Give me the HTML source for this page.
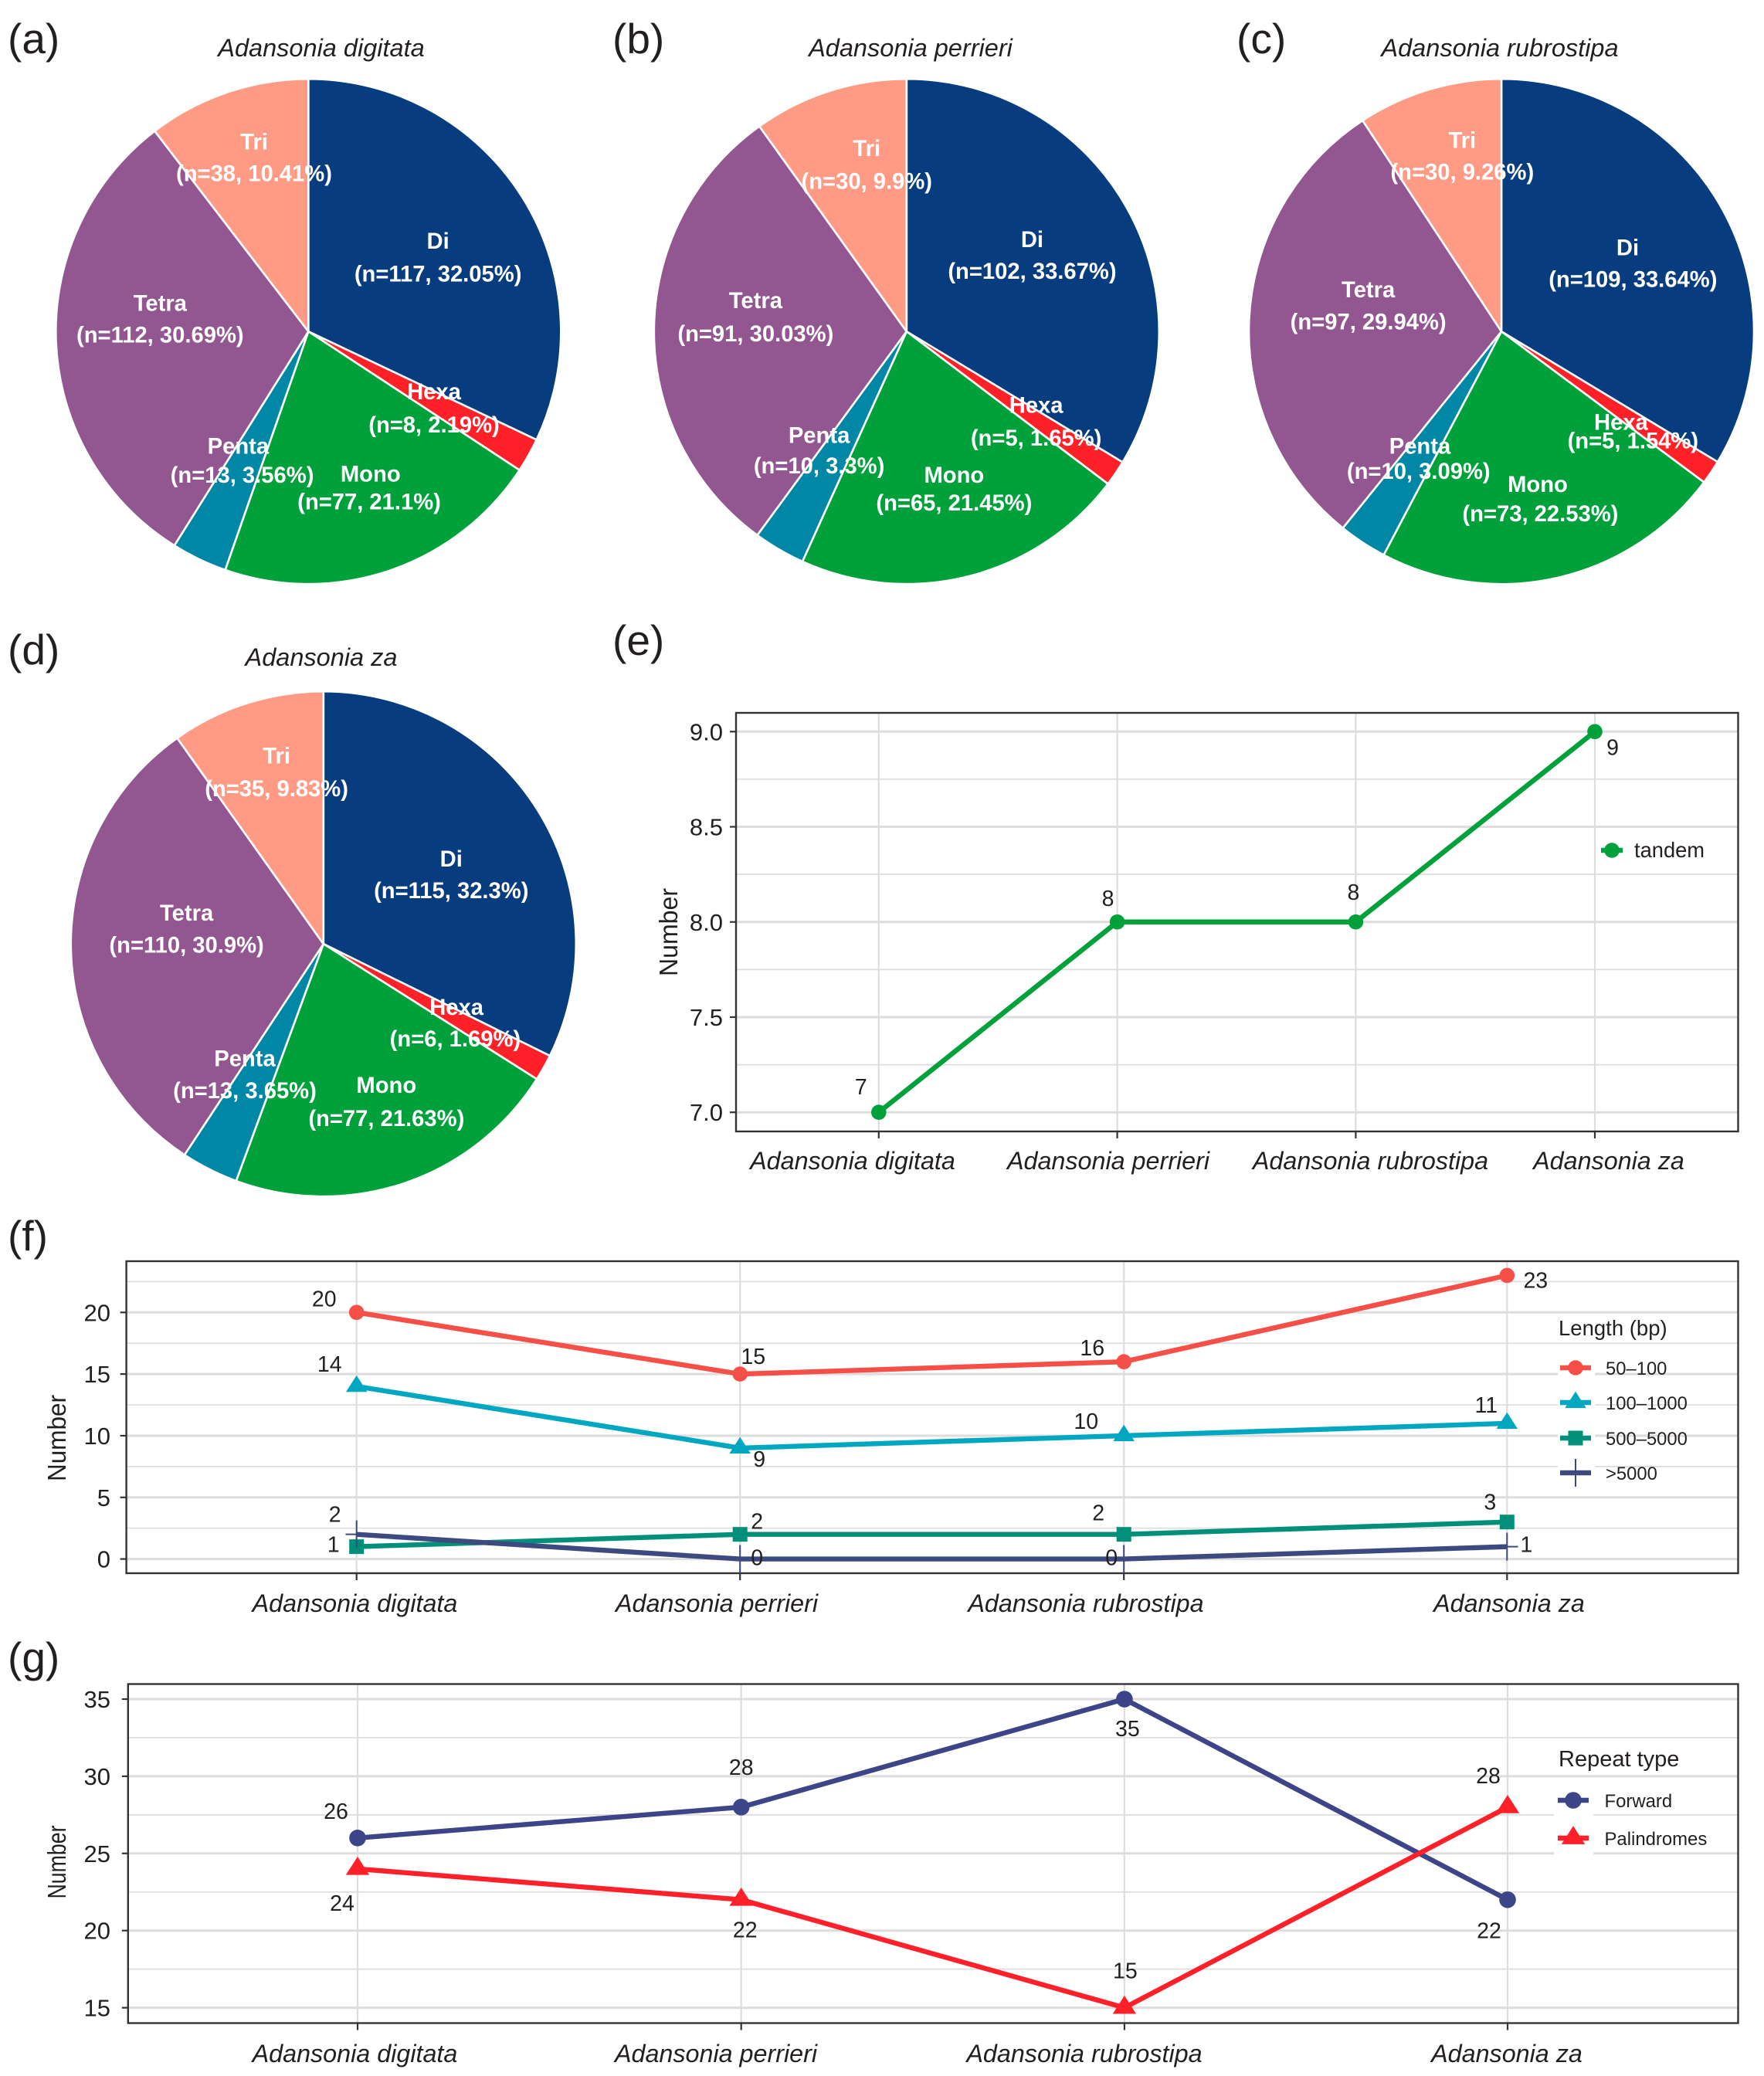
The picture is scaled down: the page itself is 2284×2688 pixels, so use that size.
<!DOCTYPE html>
<html lang="en">
<head>
<meta charset="utf-8">
<title>Adansonia repeat statistics</title>
<style>
html,body{margin:0;padding:0;background:#fff;}
svg{display:block;}
text{font-family:"Liberation Sans",Arial,sans-serif;fill:#231f20;}
</style>
</head>
<body>
<svg id="figure" xmlns="http://www.w3.org/2000/svg" width="2284" height="2688" viewBox="0 0 2284 2688">
  <rect width="2284" height="2688" fill="#fff"/>
  <text x="10" y="69" font-size="55">(a)</text>
  <text x="793" y="69" font-size="55">(b)</text>
  <text x="1601" y="69" font-size="55">(c)</text>
  <text x="10" y="860" font-size="55">(d)</text>
  <text x="793" y="848" font-size="55">(e)</text>
  <text x="10" y="1619" font-size="55">(f)</text>
  <text x="10" y="2165" font-size="55">(g)</text>
</svg>
<script>
// ---------- data ----------
const categories = ["Adansonia digitata", "Adansonia perrieri", "Adansonia rubrostipa", "Adansonia za"];
const sliceNames = ["Di", "Hexa", "Mono", "Penta", "Tetra", "Tri"];
const countsDigitata = [117, 8, 77, 13, 112, 38];
const countsPerrieri = [102, 5, 65, 10, 91, 30];
const countsRubrostipa = [109, 5, 73, 10, 97, 30];
const countsZa = [115, 6, 77, 13, 110, 35];
const percentDigitata = ["32.05", "2.19", "21.1", "3.56", "30.69", "10.41"];
const percentPerrieri = ["33.67", "1.65", "21.45", "3.3", "30.03", "9.9"];
const percentRubrostipa = ["33.64", "1.54", "22.53", "3.09", "29.94", "9.26"];
const percentZa = ["32.3", "1.69", "21.63", "3.65", "30.9", "9.83"];
const tandemValues = [7, 8, 8, 9];
const length50to100 = [20, 15, 16, 23];
const length100to1000 = [14, 9, 10, 11];
const length500to5000 = [1, 2, 2, 3];
const lengthOver5000 = [2, 0, 0, 1];
const forwardValues = [26, 28, 35, 22];
const palindromeValues = [24, 22, 15, 28];
const tandemTicks = ["7.0", "7.5", "8.0", "8.5", "9.0"];
const tandemMinorTicks = [7.25, 7.75, 8.25, 8.75];
const lengthTicks = ["0", "5", "10", "15", "20"];
const lengthMinorTicks = [2.5, 7.5, 12.5, 17.5, 22.5];
const repeatTicks = ["15", "20", "25", "30", "35"];
const repeatMinorTicks = [17.5, 22.5, 27.5, 32.5];

// ---------- style / layout (not data) ----------
const sliceColors = ["#073d7e", "#ff2127", "#00a13b", "#0087a5", "#925690", "#ff9b85"];
const NS = "http://www.w3.org/2000/svg";
const root = document.getElementById("figure");
const displayScale = 1.7134;

// two-line slice label anchors, in the order of sliceNames: [x1, y1, x2, y2]
const labelAnchorsA = [[331,182,331,207],[328,296,328,321],[280,358,279,379],[180,337,183,359],[121,229,121,253],[192,107,192,131]];
const labelAnchorsB = [[780,181,780,205],[783,306,783,331],[721,359,721,380],[619,329,619,352],[571,227,571,252],[655,112,655,137]];
const labelAnchorsC = [[1230,187,1234,211],[1225,319,1234,333],[1162,366,1164,388],[1073,337,1072,356],[1034,219,1034,243],[1105,106,1105,130]];
const labelAnchorsD = [[341,649,341,673],[345,761,344,785],[292,820,292,845],[185,800,185,824],[141,690,141,714],[209,571,209,596]];

function make(tag, attrs, parent, text) {
  const node = document.createElementNS(NS, tag);
  for (const key in attrs) node.setAttribute(key, attrs[key]);
  if (text !== undefined) node.textContent = text;
  (parent || root).appendChild(node);
  return node;
}

// ---------- pies ----------
function drawPie(key, title, counts, percents, cx, cy, r, titleX, titleY, anchors) {
  const group = make("g", {});
  
  
  const heading = make("text", {x: titleX, y: titleY + 11, "font-size": 32.5, "font-style": "italic", "text-anchor": "middle"}, group, title);
  
  
  const total = counts.reduce((a, b) => a + b, 0);
  let cumulative = 0;
  counts.forEach((value, i) => {
    const a0 = cumulative / total * 2 * Math.PI;
    cumulative += value;
    const a1 = cumulative / total * 2 * Math.PI;
    const large = a1 - a0 > Math.PI ? 1 : 0;
    const d = "M" + cx + " " + cy +
      "L" + (cx + r * Math.sin(a0)).toFixed(2) + " " + (cy - r * Math.cos(a0)).toFixed(2) +
      "A" + r + " " + r + " 0 " + large + " 1 " + (cx + r * Math.sin(a1)).toFixed(2) + " " + (cy - r * Math.cos(a1)).toFixed(2) + "Z";
    const slice = make("path", {d: d, fill: sliceColors[i], stroke: "#fff", "stroke-width": 2.6, "stroke-linejoin": "round"}, group);
    
    
  });
  counts.forEach((value, i) => {
    const a = anchors[i];
    const line1 = make("text", {x: a[0] * displayScale, y: a[1] * displayScale + 10, "font-size": 29.2, "font-weight": "bold", "text-anchor": "middle", style: "fill:#fff"}, group, sliceNames[i]);
    
    
    const line2 = make("text", {x: a[2] * displayScale, y: a[3] * displayScale + 10, "font-size": 29.2, "font-weight": "bold", "text-anchor": "middle", style: "fill:#fff"}, group, "(n=" + value + ", " + percents[i] + "%)");
    
    
  });
}
drawPie("digitata", categories[0], countsDigitata, percentDigitata, 399.3, 429.2, 327, 416, 62, labelAnchorsA);
drawPie("perrieri", categories[1], countsPerrieri, percentPerrieri, 1173.8, 429.2, 327, 1179, 62, labelAnchorsB);
drawPie("rubrostipa", categories[2], countsRubrostipa, percentRubrostipa, 1944, 429.2, 327, 1942, 62, labelAnchorsC);
drawPie("za", categories[3], countsZa, percentZa, 418.8, 1222.2, 327, 416, 851, labelAnchorsD);

// ---------- markers ----------
function drawMarker(shape, x, y, color, size, parent) {
  let m;
  if (shape === "circle") {
    m = make("circle", {cx: x, cy: y, r: size, fill: color}, parent);
  } else if (shape === "triangle") {
    const w = size * 1.45, up = size * 1.5, down = size * 0.75;
    m = make("polygon", {points: (x - w) + "," + (y + down) + " " + (x + w) + "," + (y + down) + " " + x + "," + (y - up), fill: color}, parent);
  } else if (shape === "square") {
    m = make("rect", {x: x - size, y: y - size, width: size * 2, height: size * 2, fill: color}, parent);
  } else {
    m = make("path", {d: "M" + (x - size * 1.5) + " " + y + "H" + (x + size * 1.5) + "M" + x + " " + (y - size * 1.9) + "V" + (y + size * 1.9), stroke: color, "stroke-width": 2, fill: "none"}, parent);
  }
  return m;
}

// ---------- line charts ----------
function drawLineChart(cfg) {
  const group = make("g", {});
  
  
  const yScale = v => cfg.y0 + (v - cfg.v0) * (cfg.y1 - cfg.y0) / (cfg.v1 - cfg.v0);
  const xScale = i => cfg.catX[i];
  const gridColor = "#dfdcdc";

  cfg.minor.forEach(v => {
    const g = make("line", {x1: cfg.left, x2: cfg.right, y1: yScale(v), y2: yScale(v), stroke: gridColor, "stroke-width": 1.7}, group);
    
    
  });
  cfg.ticks.forEach(t => {
    const v = parseFloat(t);
    const g = make("line", {x1: cfg.left, x2: cfg.right, y1: yScale(v), y2: yScale(v), stroke: gridColor, "stroke-width": 3}, group);
    
    
  });
  categories.forEach((c, i) => {
    const g = make("line", {x1: xScale(i), x2: xScale(i), y1: cfg.top, y2: cfg.bottom, stroke: gridColor, "stroke-width": 2.2}, group);
    
    
  });

  // legend key background sits over the grid
  const keyBg = make("rect", cfg.keyBox, group);
  keyBg.setAttribute('fill', '#fff');
  
  

  const border = make("rect", {x: cfg.left, y: cfg.top, width: cfg.right - cfg.left, height: cfg.bottom - cfg.top, fill: "none", stroke: "#333", "stroke-width": 2.4}, group);
  
  

  cfg.ticks.forEach(t => {
    const v = parseFloat(t);
    const tick = make("line", {x1: cfg.left - 8, x2: cfg.left, y1: yScale(v), y2: yScale(v), stroke: "#333", "stroke-width": 2.2}, group);
    
    
    const label = make("text", {x: cfg.tickRight, y: yScale(v) + 11, "font-size": 31, "text-anchor": "end"}, group, t);
    
    
  });
  categories.forEach((c, i) => {
    const tick = make("line", {x1: xScale(i), x2: xScale(i), y1: cfg.bottom, y2: cfg.bottom + 9, stroke: "#333", "stroke-width": 2.2}, group);
    
    
    const label = make("text", {x: cfg.catLabelX[i], y: cfg.catBaseline, "font-size": 32.3, "font-style": "italic", "text-anchor": "middle"}, group, c);
    
    
  });

  const axisTitle = make("text", {transform: "translate(" + cfg.titleX + " " + cfg.titleY + ") rotate(-90)", "font-size": cfg.titleSize, "text-anchor": "middle", textLength: cfg.titleLength, lengthAdjust: "spacingAndGlyphs"}, group, "Number");
  
  

  cfg.series.forEach(s => {
    const pts = s.values.map((v, i) => xScale(i).toFixed(2) + "," + yScale(v).toFixed(2)).join(" ");
    const line = make("polyline", {points: pts, fill: "none", stroke: s.color, "stroke-width": 6.4, "stroke-linejoin": "round"}, group);
    
    
  });
  cfg.series.forEach(s => {
    s.values.forEach((v, i) => {
      const mark = drawMarker(s.marker, xScale(i), yScale(v), s.color, s.size, group);
      
      
      const off = s.offsets[i];
      const label = make("text", {x: xScale(i) + off[0], y: yScale(v) + off[1] + 10, "font-size": 28.5, "text-anchor": "middle"}, group, String(v));
      
      
    });
  });

  // legend
  if (cfg.legendTitle) {
    const lt = make("text", {x: cfg.legendTitleX, y: cfg.legendTitleY, "font-size": cfg.legendTitleSize}, group, cfg.legendTitle);
    
    
  }
  cfg.series.forEach((s, i) => {
    const ky = cfg.legendY[i];
    const keyLine = make("line", {x1: cfg.keyX - cfg.keyHalf, x2: cfg.keyX + cfg.keyHalf, y1: ky, y2: ky, stroke: s.color, "stroke-width": 6.4}, group);
    
    
    const keyMark = drawMarker(s.marker, cfg.keyX, ky, s.color, s.size, group);
    
    
    const keyText = make("text", {x: cfg.legendTextX, y: ky + 9, "font-size": cfg.legendSize}, group, s.label);
    
    
  });
}

drawLineChart({
  key: "tandem", left: 953, right: 2250.5, top: 923, bottom: 1465,
  v0: 7, y0: 1440.2, v1: 9, y1: 947.3,
  ticks: tandemTicks, minor: tandemMinorTicks, tickRight: 936,
  catX: [1137.8, 1446.6, 1755.4, 2065], catLabelX: [1104, 1435, 1774.5, 2083], catBaseline: 1514,
  titleX: 877, titleY: 1207, titleSize: 33, titleLength: 114,
  keyBox: {x: 2069, y: 1072, width: 43, height: 58},
  legendY: [1101], keyX: 2087, keyHalf: 14, legendTextX: 2116, legendSize: 27.3,
  series: [
    {name: "tandem", label: "tandem", values: tandemValues, color: "#00a03a", marker: "circle", size: 9.8,
     offsets: [[-23,-33],[-12,-31],[-3,-39],[23,20]]}
  ]
});

drawLineChart({
  key: "length", left: 163.6, right: 2250.5, top: 1633, bottom: 2037,
  v0: 0, y0: 2018.6, v1: 20, y1: 1699.3,
  ticks: lengthTicks, minor: lengthMinorTicks, tickRight: 143,
  catX: [461.7, 958.2, 1455.2, 1951.3], catLabelX: [459.5, 928, 1406, 1954], catBaseline: 2087,
  titleX: 85, titleY: 1862, titleSize: 33, titleLength: 112,
  keyBox: {x: 2017, y: 1748, width: 48, height: 182},
  legendTitle: "Length (bp)", legendTitleX: 2018, legendTitleY: 1729, legendTitleSize: 27.5,
  legendY: [1771, 1816, 1862, 1907], keyX: 2040, keyHalf: 20, legendTextX: 2079, legendSize: 23.8,
  series: [
    {name: "50-100", label: "50\u2013100", values: length50to100, color: "#f64f47", marker: "circle", size: 9.8,
     offsets: [[-42,-18],[17,-23],[-41,-18],[37,6]]},
    {name: "100-1000", label: "100\u20131000", values: length100to1000, color: "#00a7c0", marker: "triangle", size: 9.5,
     offsets: [[-35,-29],[25,14],[-49,-19],[-27,-24]]},
    {name: "500-5000", label: "500\u20135000", values: length500to5000, color: "#00907a", marker: "square", size: 9.5,
     offsets: [[-30,-3],[22,-17],[-33,-28],[-22,-26]]},
    {name: "over-5000", label: ">5000", values: lengthOver5000, color: "#3c4a80", marker: "plus", size: 9.5,
     offsets: [[-28,-26],[22,-2],[-16,-2],[25,-3]]}
  ]
});

drawLineChart({
  key: "repeat", left: 165.8, right: 2250.5, top: 2180.5, bottom: 2619.5,
  v0: 15, y0: 2599.6, v1: 35, y1: 2200,
  ticks: repeatTicks, minor: repeatMinorTicks, tickRight: 143,
  catX: [463, 959.7, 1455.9, 1952], catLabelX: [459.5, 927, 1404, 1951], catBaseline: 2670,
  titleX: 85, titleY: 2411, titleSize: 33, titleLength: 95,
  keyBox: {x: 2012, y: 2308, width: 51, height: 96},
  legendTitle: "Repeat type", legendTitleX: 2018, legendTitleY: 2287, legendTitleSize: 29,
  legendY: [2331, 2380], keyX: 2037, keyHalf: 20, legendTextX: 2077.5, legendSize: 23.9,
  series: [
    {name: "forward", label: "Forward", values: forwardValues, color: "#3e4488", marker: "circle", size: 10.8,
     offsets: [[-28,-35],[0,-52],[4,38],[-24,40]]},
    {name: "palindromes", label: "Palindromes", values: palindromeValues, color: "#ff2029", marker: "triangle", size: 10.5,
     offsets: [[-20,44],[5,39],[1,-48],[-25,-41]]}
  ]
});
</script>
</body>
</html>
